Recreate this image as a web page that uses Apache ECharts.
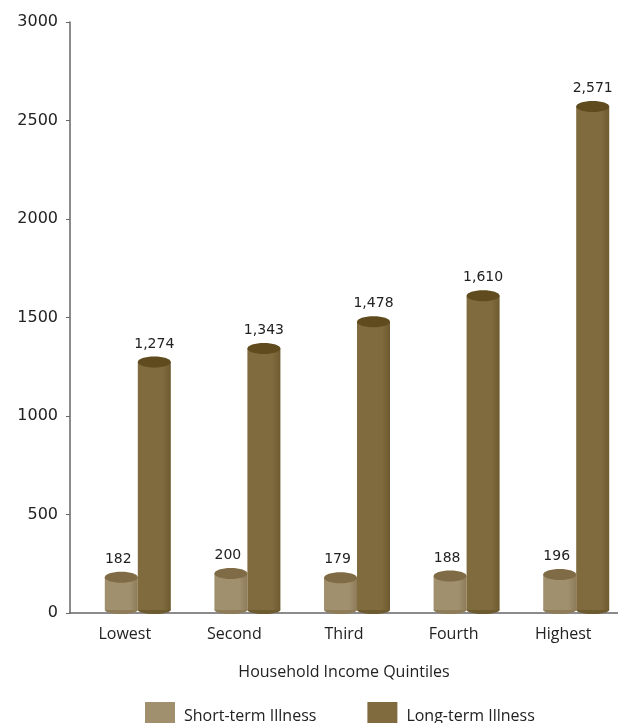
<!DOCTYPE html>
<html>
<head>
<meta charset="utf-8">
<script src="https://cdn.jsdelivr.net/npm/echarts@6/dist/echarts.min.js"></script>
<style>
  html, body { margin: 0; padding: 0; background: #fff; }
  #main { width: 618px; height: 723px; }
</style>
</head>
<body>
<div id="main"></div>
<script>
// data
var quintiles = ['Lowest', 'Second', 'Third', 'Fourth', 'Highest'];
var shortTerm = [182, 200, 179, 188, 196];
var longTerm = [1274, 1343, 1478, 1610, 2571];
var yTicks = [0, 500, 1000, 1500, 2000, 2500, 3000];

var BAR_W = 33;
var SHIFT = 13; // 3d look pushes the bars a bit right of the label

// cylinder drawn from the axes, side = -1 left bar, +1 right bar
function cylinder(side, body, top, edge) {
    return function (params, api) {
        var idx = api.value(0), val = api.value(1);
        var p = api.coord([idx, val]);
        var base = api.coord([idx, 0]);
        var cx = p[0] + SHIFT + side * BAR_W / 2;
        var rx = BAR_W / 2, ry = 5;
        var baseY = base[1] - 3;
        return {
            type: 'group',
            children: [
                { type: 'ellipse', shape: { cx: cx, cy: baseY, rx: rx, ry: ry - 1 },
                  style: { fill: edge } },
                { type: 'rect', shape: { x: cx - rx, y: p[1], width: BAR_W, height: baseY - p[1] },
                  style: { fill: new echarts.graphic.LinearGradient(0, 0, 1, 0, [
                      { offset: 0, color: body },
                      { offset: 0.75, color: body },
                      { offset: 1, color: edge }
                  ]) } },
                { type: 'ellipse', shape: { cx: cx, cy: p[1], rx: rx, ry: ry + 0.5 },
                  style: { fill: top } },
                { type: 'text', x: cx - 3 * (side < 0 ? 1 : 0), y: p[1] - 11,
                  style: { text: val.toLocaleString('en-US'), fill: '#222',
                           font: '14px "DejaVu Sans"', align: 'center', verticalAlign: 'bottom' } }
            ]
        };
    };
}

var chart = echarts.init(document.getElementById('main'));
chart.setOption({
    animation: false,
    textStyle: { fontFamily: 'Open Sans' },
    grid: { left: 70, width: 551, top: 22, bottom: 110 },
    legend: {
        top: 697, left: 140,
        itemWidth: 30, itemHeight: 28, itemGap: 51,
        icon: 'rect',
        textStyle: { fontSize: 16, color: '#222', fontFamily: 'Open Sans', padding: [0, 0, 0, 4] },
        data: ['Short-term Illness', 'Long-term Illness']
    },
    xAxis: {
        type: 'category',
        data: quintiles,
        name: 'Household Income Quintiles',
        nameLocation: 'middle',
        nameGap: 51,
        nameTextStyle: { fontSize: 16, color: '#222', fontFamily: 'Open Sans' },
        axisLine: { lineStyle: { color: '#666', width: 1.5 } },
        axisTick: { length: 5, lineStyle: { color: '#666' } },
        axisLabel: { fontSize: 16, color: '#222', margin: 13, fontFamily: 'Open Sans' }
    },
    yAxis: {
        type: 'value',
        min: yTicks[0], max: yTicks[yTicks.length - 1], interval: 500,
        axisLine: { show: true, lineStyle: { color: '#666', width: 1.5 } },
        axisTick: { show: true, length: 4, lineStyle: { color: '#666' } },
        splitLine: { show: false },
        axisLabel: { fontSize: 16, color: '#222', margin: 12, fontFamily: 'DejaVu Sans',
                     formatter: function (v) { return String(v); } }
    },
    series: [{
        name: 'Short-term Illness',
        type: 'custom',
        itemStyle: { color: '#a1906e' },
        renderItem: cylinder(-1, '#a1906e', '#7f6b45', '#8e7c58'),
        encode: { x: 0, y: 1 },
        data: shortTerm.map(function (v, i) { return [i, v]; })
    }, {
        name: 'Long-term Illness',
        type: 'custom',
        itemStyle: { color: '#806b3e' },
        renderItem: cylinder(1, '#806b3e', '#5f4b1e', '#6e5a2f'),
        encode: { x: 0, y: 1 },
        data: longTerm.map(function (v, i) { return [i, v]; })
    }]
});
</script>
</body>
</html>
